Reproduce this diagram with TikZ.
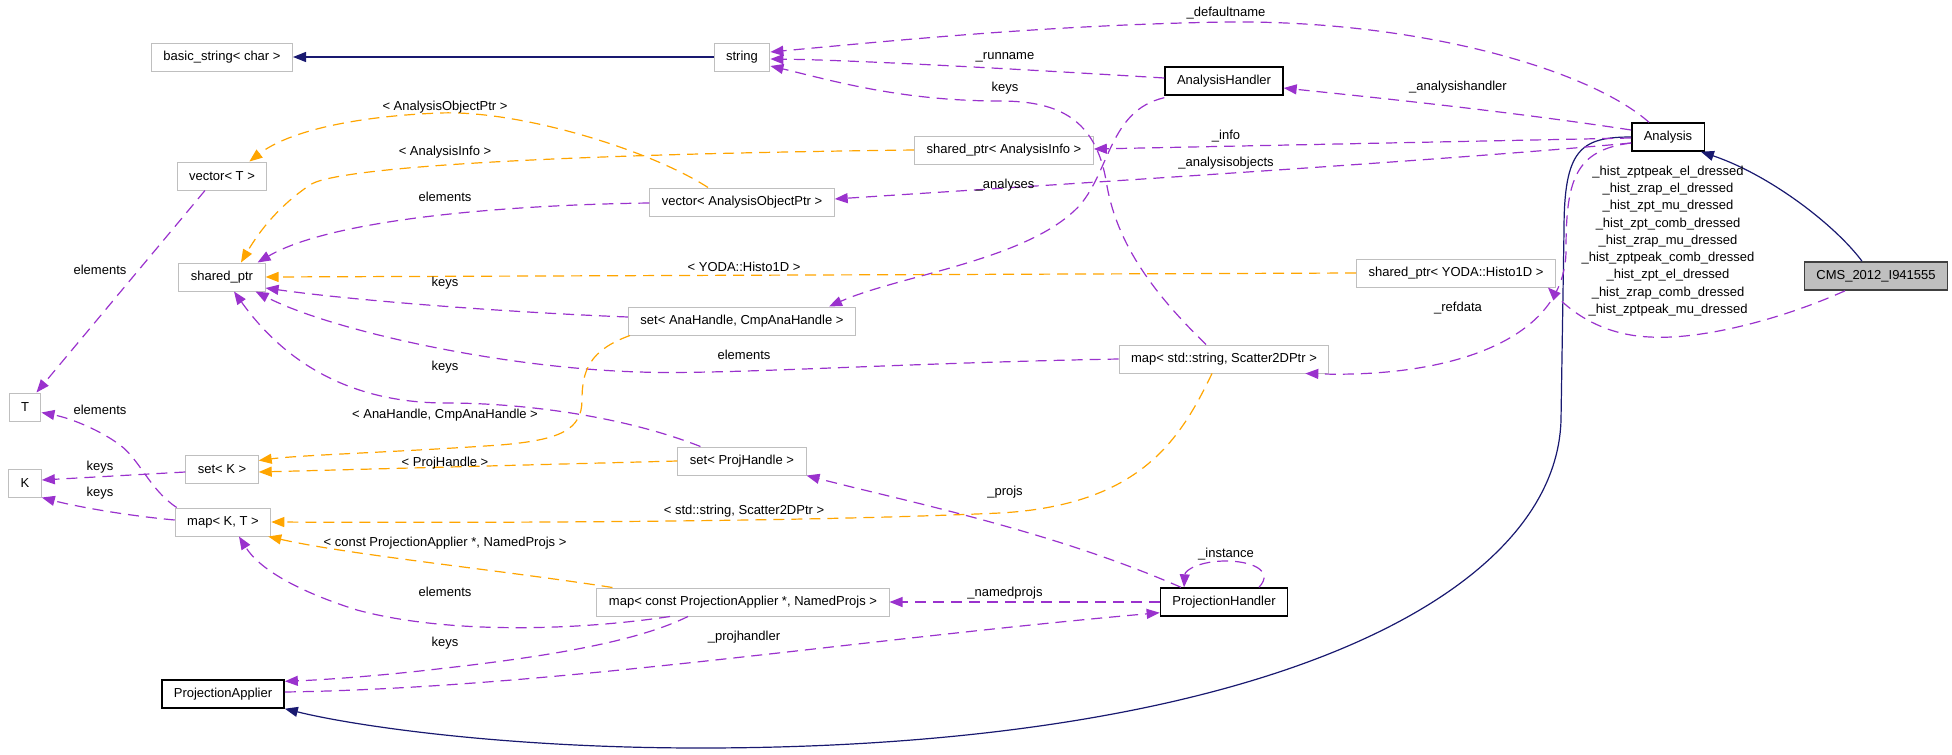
\documentclass[tikz,border=0pt]{standalone}
\usepackage{fontspec}
\setmainfont{Liberation Sans}
\usetikzlibrary{arrows.meta}

\definecolor{edgepurple}{HTML}{9A32CD}
\definecolor{edgeorange}{HTML}{FFA500}
\definecolor{edgenavy}{HTML}{191970}
\definecolor{boxgray}{HTML}{BFBFBF}
\definecolor{boxdark}{HTML}{404040}
\newcommand{\dgfont}{\fontsize{13}{17.3}\selectfont}

\tikzset{
  cls/.style={draw=boxgray, line width=1pt, fill=white, minimum height=28pt, inner xsep=12pt, inner ysep=0pt, font=\dgfont},
  doccls/.style={cls, draw=black, line width=1.4pt},
  curcls/.style={cls, draw=boxdark, fill=boxgray, line width=1.6pt},
  memb/.style={draw=edgepurple, line width=1.2pt, dash pattern=on 11pt off 7pt, -{Triangle[length=13pt,width=10pt]}},
  tmpl/.style={memb, draw=edgeorange},
  inh/.style={draw=edgenavy, line width=1.2pt, -{Triangle[length=13pt,width=10pt]}},
  elbl/.style={font=\dgfont, inner sep=0pt, align=center},
}

\begin{document}
\begin{tikzpicture}[x=1pt, y=-1pt]
	\useasboundingbox (0,0) rectangle (1952,755);

	% Klassen
	\node[cls] (bstr) at (222,57) {basic\_string< char >};
	\node[cls] (string) at (742,57) {string};
	\node[doccls] (ahandler) at (1224,81) {AnalysisHandler};
	\node[doccls] (analysis) at (1668,137) {Analysis};
	\node[curcls] (cms) at (1876,276) {CMS\_2012\_I941555};
	\node[cls] (spinfo) at (1004,150) {shared\_ptr< AnalysisInfo >};
	\node[cls] (vecaop) at (742,202) {vector< AnalysisObjectPtr >};
	\node[cls] (vect) at (222,176) {vector< T >};
	\node[cls] (sptr) at (222,277) {shared\_ptr};
	\node[cls] (spyoda) at (1456,273) {shared\_ptr< YODA::Histo1D >};
	\node[cls] (setana) at (742,321) {set< AnaHandle, CmpAnaHandle >};
	\node[cls] (mapsc) at (1224,359) {map< std::string, Scatter2DPtr >};
	\node[cls] (T) at (25,407) {T};
	\node[cls] (K) at (25,483) {K};
	\node[cls] (setk) at (222,469) {set< K >};
	\node[cls] (setproj) at (742,461) {set< ProjHandle >};
	\node[cls] (mapkt) at (223,522) {map< K, T >};
	\node[cls] (mapconst) at (743,602) {map< const ProjectionApplier *, NamedProjs >};
	\node[doccls] (phandler) at (1224,602) {ProjectionHandler};
	\node[doccls] (papplier) at (223,694) {ProjectionApplier};

	% Vererbung
	\draw[inh] (string.west) -- (bstr.east);
	\draw[inh] ([xshift=-14pt]cms.north) .. controls (1835,225) and (1770,175) .. ([xshift=-4pt]analysis.south east);
	\draw[inh] (analysis.west) .. controls (1580,137) and (1564,150) .. (1564,230) -- (1561,420)
		.. controls (1556,600) and (1250,748) .. (700,748) .. controls (500,748) and (350,725) .. (papplier.south east);

	% Member
	\draw[memb] ([xshift=-19pt]analysis.north) .. controls (1590,70) and (1420,20) .. (1226,22)
		.. controls (1050,25) and (900,40) .. ([yshift=5pt]string.east);
	\draw[memb] ([yshift=3pt]ahandler.west) .. controls (1000,68) and (850,60) .. ([yshift=-2pt]string.east);
	\draw[memb] ([xshift=-18pt]mapsc.north) .. controls (1150,290) and (1115,240) .. (1106,180)
		.. controls (1095,120) and (1060,101) .. (1000,101) .. controls (900,101) and (830,80) .. ([yshift=-9pt]string.east);
	\draw[memb] ([yshift=7pt]analysis.west) .. controls (1500,110) and (1350,95) .. ([yshift=-7pt]ahandler.east);
	\draw[memb] ([yshift=-1pt]analysis.west) -- ([yshift=1pt]spinfo.east);
	\draw[memb] ([yshift=-6pt]analysis.west) .. controls (1450,160) and (1050,185) .. ([yshift=3pt]vecaop.east);
	\draw[memb] ([yshift=-2pt]ahandler.south west) .. controls (1110,110) and (1110,170) .. (1080,205)
		.. controls (1030,260) and (900,275) .. ([xshift=-27pt]setana.north east);
	\draw[memb] ([xshift=-31pt]cms.south) .. controls (1780,320) and (1700,340) .. (1650,337)
		.. controls (1600,335) and (1570,310) .. ([xshift=-8pt]spyoda.south east);
	\draw[memb] ([yshift=-6pt]analysis.west) .. controls (1575,150) and (1566,180) .. (1566,250)
		.. controls (1566,340) and (1450,378) .. ([xshift=-24pt]mapsc.south east);
	\draw[memb] ([yshift=-1pt]vecaop.west) .. controls (500,205) and (330,220) .. ([xshift=-8pt]sptr.north east);
	\draw[memb] ([xshift=-17pt]vect.south) -- ([xshift=-5pt]T.north east);
	\draw[memb] ([yshift=4pt]setana.west) .. controls (500,312) and (350,300) .. ([yshift=-11pt]sptr.east);
	\draw[memb] (mapsc.west) .. controls (900,363) and (720,375) .. (640,372)
		.. controls (500,368) and (330,330) .. ([xshift=-10pt]sptr.south east);
	\draw[memb] ([xshift=23pt]setproj.north west) .. controls (620,415) and (520,403) .. (446,403)
		.. controls (360,403) and (290,370) .. ([xshift=12pt]sptr.south);
	\draw[memb] ([yshift=-3pt]setk.west) -- ([yshift=3pt]K.east);
	\draw[memb] ([yshift=2pt]mapkt.west) .. controls (120,515) and (70,505) .. (K.south east);
	\draw[memb] ([xshift=2pt]mapkt.north west) .. controls (150,490) and (140,460) .. (120,445)
		.. controls (100,430) and (70,418) .. ([yshift=9pt]T.south east);
	\draw[memb] ([xshift=-73pt]mapconst.south) .. controls (580,630) and (450,635) .. (357,610)
		.. controls (300,592) and (260,570) .. ([xshift=16pt]mapkt.south);
	\draw[memb] ([xshift=-55pt]mapconst.south) .. controls (640,640) and (560,655) .. (446,668)
		.. controls (380,676) and (320,680) .. ([yshift=-2pt]papplier.north east);
	\draw[memb] ([yshift=2pt]papplier.east) .. controls (550,688) and (850,640) .. ([yshift=4pt]phandler.south west);
	\draw[memb] (phandler.west) -- (mapconst.east);
	\draw[memb] ([xshift=-43pt]phandler.north) .. controls (1050,530) and (900,500) .. (setproj.south east);
	\draw[memb] ([xshift=35pt]phandler.north) .. controls (1275,570) and (1250,561) .. (1226,561)
		.. controls (1200,561) and (1185,570) .. ([xshift=-40pt]phandler.north);

	% Template-Argumente
	\draw[tmpl] (spinfo.west) .. controls (500,155) and (330,170) .. (310,185)
		.. controls (280,205) and (260,230) .. ([xshift=19pt]sptr.north);
	\draw[tmpl] ([xshift=-34pt]vecaop.north) .. controls (650,150) and (520,110) .. (440,113)
		.. controls (360,116) and (290,130) .. ([xshift=-18pt]vect.north east);
	\draw[tmpl] (spyoda.west) -- (sptr.east);
	\draw[tmpl] ([xshift=2pt]setana.south west) .. controls (590,350) and (582,370) .. (582,400)
		.. controls (582,430) and (560,440) .. (500,445) .. controls (400,452) and (300,455) .. ([yshift=-6pt]setk.north east);
	\draw[tmpl] (setproj.west) -- ([yshift=-3pt]setk.east);
	\draw[tmpl] ([xshift=-12pt]mapsc.south) .. controls (1180,440) and (1140,505) .. (1000,513)
		.. controls (800,522) and (500,523) .. (mapkt.east);
	\draw[tmpl] ([xshift=16pt]mapconst.north west) .. controls (500,570) and (350,555) .. ([xshift=-3pt]mapkt.south east);

	% Beschriftungen
	\node[elbl] (l1) at (1226,13) {\_defaultname};
	\node[elbl] (l2) at (1005,57) {\_runname};
	\node[elbl] (l3) at (1005,88) {keys};
	\node[elbl] (l4) at (1458,87) {\_analysishandler};
	\node[elbl] (l5) at (1226,136) {\_info};
	\node[elbl] (l6) at (1226,163) {\_analysisobjects};
	\node[elbl] (l7) at (1005,185) {\_analyses};
	\node[elbl] (l8) at (1668,241) {\_hist\_zptpeak\_el\_dressed\\\_hist\_zrap\_el\_dressed\\\_hist\_zpt\_mu\_dressed\\\_hist\_zpt\_comb\_dressed\\\_hist\_zrap\_mu\_dressed\\\_hist\_zptpeak\_comb\_dressed\\\_hist\_zpt\_el\_dressed\\\_hist\_zrap\_comb\_dressed\\\_hist\_zptpeak\_mu\_dressed};
	\node[elbl] (l9) at (1458,308) {\_refdata};
	\node[elbl] (l10) at (445,107) {< AnalysisObjectPtr >};
	\node[elbl] (l11) at (445,152) {< AnalysisInfo >};
	\node[elbl] (l12) at (445,197) {elements};
	\node[elbl] (l13) at (100,270) {elements};
	\node[elbl] (l14) at (744,267) {< YODA::Histo1D >};
	\node[elbl] (l15) at (445,283) {keys};
	\node[elbl] (l16) at (744,355) {elements};
	\node[elbl] (l17) at (445,367) {keys};
	\node[elbl] (l18) at (100,410) {elements};
	\node[elbl] (l19) at (445,415) {< AnaHandle, CmpAnaHandle >};
	\node[elbl] (l20) at (445,463) {< ProjHandle >};
	\node[elbl] (l21) at (100,467) {keys};
	\node[elbl] (l22) at (100,493) {keys};
	\node[elbl] (l23) at (744,511) {< std::string, Scatter2DPtr >};
	\node[elbl] (l24) at (1005,492) {\_projs};
	\node[elbl] (l25) at (445,543) {< const ProjectionApplier *, NamedProjs >};
	\node[elbl] (l26) at (1226,554) {\_instance};
	\node[elbl] (l27) at (445,592) {elements};
	\node[elbl] (l28) at (1005,593) {\_namedprojs};
	\node[elbl] (l29) at (744,637) {\_projhandler};
	\node[elbl] (l30) at (445,643) {keys};
\end{tikzpicture}
\end{document}
